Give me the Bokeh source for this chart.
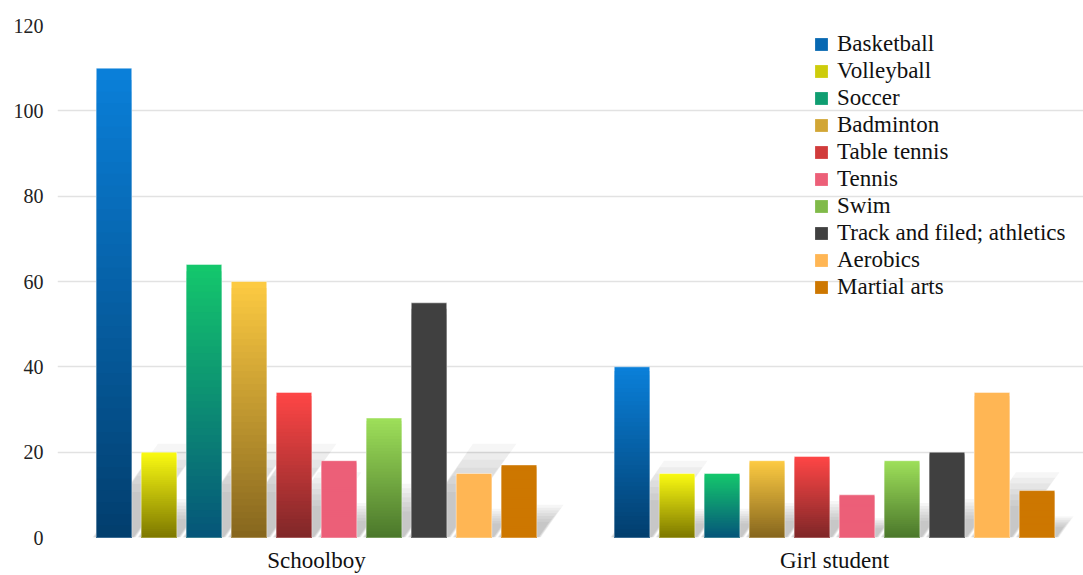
import numpy as np
from bokeh.plotting import figure
from bokeh.models import ColumnDataSource, Range1d, FixedTicker, Legend, LegendItem
from bokeh.embed import file_html
from bokeh.resources import INLINE

# ---------------- data ----------------
groups = ["Schoolboy", "Girl student"]
sports = ["Basketball", "Volleyball", "Soccer", "Badminton", "Table tennis",
          "Tennis", "Swim", "Track and filed; athletics", "Aerobics", "Martial arts"]
schoolboy = [110, 20, 64, 60, 34, 18, 28, 55, 15, 17]
girl_student = [40, 15, 15, 18, 19, 10, 18, 20, 34, 11]
y_ticks = [0, 20, 40, 60, 80, 100, 120]

# gradient colours (top, bottom) for each sport
top_colors = ["#0a80da", "#fbfb12", "#14c86c", "#fdcb42", "#ff4646",
              "#ec5f78", "#9ee05a", "#404040", "#ffb654", "#cd7700"]
bottom_colors = ["#023e6d", "#7d7800", "#05557a", "#86661e", "#7f2728",
                 "#ec5f78", "#4b772b", "#404040", "#ffb654", "#cd7700"]

values = [schoolboy, girl_student]

# ---------------- geometry helpers ----------------
FRAME_W = 1026
FRAME_H = 512
PX_PER_CAT = 518.0
x_end = FRAME_W / PX_PER_CAT
y_px = 120.0 / FRAME_H           # data units per px (y)
x_px = 1.0 / PX_PER_CAT          # data units per px (x)
bar_w = 35.5 * x_px
step = 45.0 * x_px
n = len(sports)
centers = [0.5, 1.5]


def hex2rgb(h):
    h = h.lstrip("#")
    return np.array([int(h[i:i + 2], 16) for i in (0, 2, 4)], dtype=float)


def rgb2hex(c):
    c = np.clip(np.round(c), 0, 255).astype(int)
    return "#%02x%02x%02x" % tuple(c)


p = figure(width=1083, height=575, output_backend="svg", toolbar_location=None,
           x_range=Range1d(0, x_end), y_range=Range1d(0, 120),
           min_border_left=57, min_border_right=0, min_border_top=25,
           min_border_bottom=38)
p.outline_line_color = None
p.background_fill_color = "white"
p.border_fill_color = "white"

# ---------------- soft, fading shadows ----------------
LAYERS = 7
for j in range(1, LAYERS + 1):
    frac = j / LAYERS
    expand = 1.0 + 3.0 * frac
    xs, ys = [], []
    for g, gc in enumerate(centers):
        for i in range(n):
            h = values[g][i]
            xc = gc + (i - (n - 1) / 2) * step
            hs = min(0.45 * h, 22.0) * (0.4 + 0.6 * frac)
            dx = 0.7 * (hs / y_px) * x_px
            e = expand * x_px
            xl, xr = xc - bar_w / 2 - e, xc + bar_w / 2 + e
            xs.append([xl, xr, xr + dx, xl + dx])
            ys.append([0, 0, hs, hs])
    p.patches(xs, ys, fill_color="#5a5a5a", fill_alpha=0.055, line_color=None)

# ---------------- gradient bars ----------------
N = 40
legend_items = []
for i, sport in enumerate(sports):
    ctop = hex2rgb(top_colors[i])
    cbot = hex2rgb(bottom_colors[i])
    xs, tops, cols = [], [], []
    for g, gc in enumerate(centers):
        h = values[g][i]
        xc = gc + (i - (n - 1) / 2) * step
        for k in range(N):
            t = (N - k - 0.5) / N
            xs.append(xc)
            tops.append(h * (N - k) / N)
            cols.append(rgb2hex(cbot + (ctop - cbot) * t))
    src = ColumnDataSource(dict(x=xs, top=tops, color=cols))
    r = p.vbar(x="x", top="top", bottom=0, width=bar_w, fill_color="color",
               line_color=None, source=src)
    legend_items.append(LegendItem(label=sport, renderers=[r], index=N // 2 - 6))

# thin light outline on bars
ox, otop = [], []
for g, gc in enumerate(centers):
    for i in range(n):
        ox.append(gc + (i - (n - 1) / 2) * step)
        otop.append(values[g][i])
p.vbar(x=ox, top=otop, bottom=0, width=bar_w, fill_alpha=0,
       line_color="white", line_alpha=0.45, line_width=1)

# ---------------- axes & grid ----------------
p.xgrid.grid_line_color = None
p.ygrid.grid_line_color = "#e2e2e2"
p.ygrid.grid_line_width = 1.5
p.yaxis.ticker = FixedTicker(ticks=y_ticks)
p.yaxis.axis_line_color = None
p.yaxis.major_tick_line_color = None
p.yaxis.minor_tick_line_color = None
p.yaxis.major_tick_out = 0
p.yaxis.major_tick_in = 0
p.yaxis.major_label_standoff = 14
p.yaxis.major_label_text_font = "Liberation Serif"
p.yaxis.major_label_text_font_size = "20px"
p.yaxis.major_label_text_color = "#222222"

p.xaxis.ticker = FixedTicker(ticks=centers)
p.xaxis.major_label_overrides = {centers[0]: groups[0], centers[1]: groups[1]}
p.xaxis.axis_line_color = None
p.xaxis.major_tick_line_color = None
p.xaxis.minor_tick_line_color = None
p.xaxis.major_tick_out = 0
p.xaxis.major_tick_in = 0
p.xaxis.major_label_standoff = 10
p.xaxis.major_label_text_font = "Liberation Serif"
p.xaxis.major_label_text_font_size = "23px"
p.xaxis.major_label_text_color = "#111111"

# ---------------- legend ----------------
legend = Legend(items=legend_items, location=(756, 237),
                glyph_width=16, glyph_height=16, label_standoff=8,
                label_height=16, spacing=1, padding=0, margin=0,
                background_fill_alpha=0, border_line_color=None,
                label_text_font="Liberation Serif", label_text_font_size="23px",
                label_text_color="#111111")
p.add_layout(legend, "center")

open("out.html", "w").write(file_html(p, INLINE))
